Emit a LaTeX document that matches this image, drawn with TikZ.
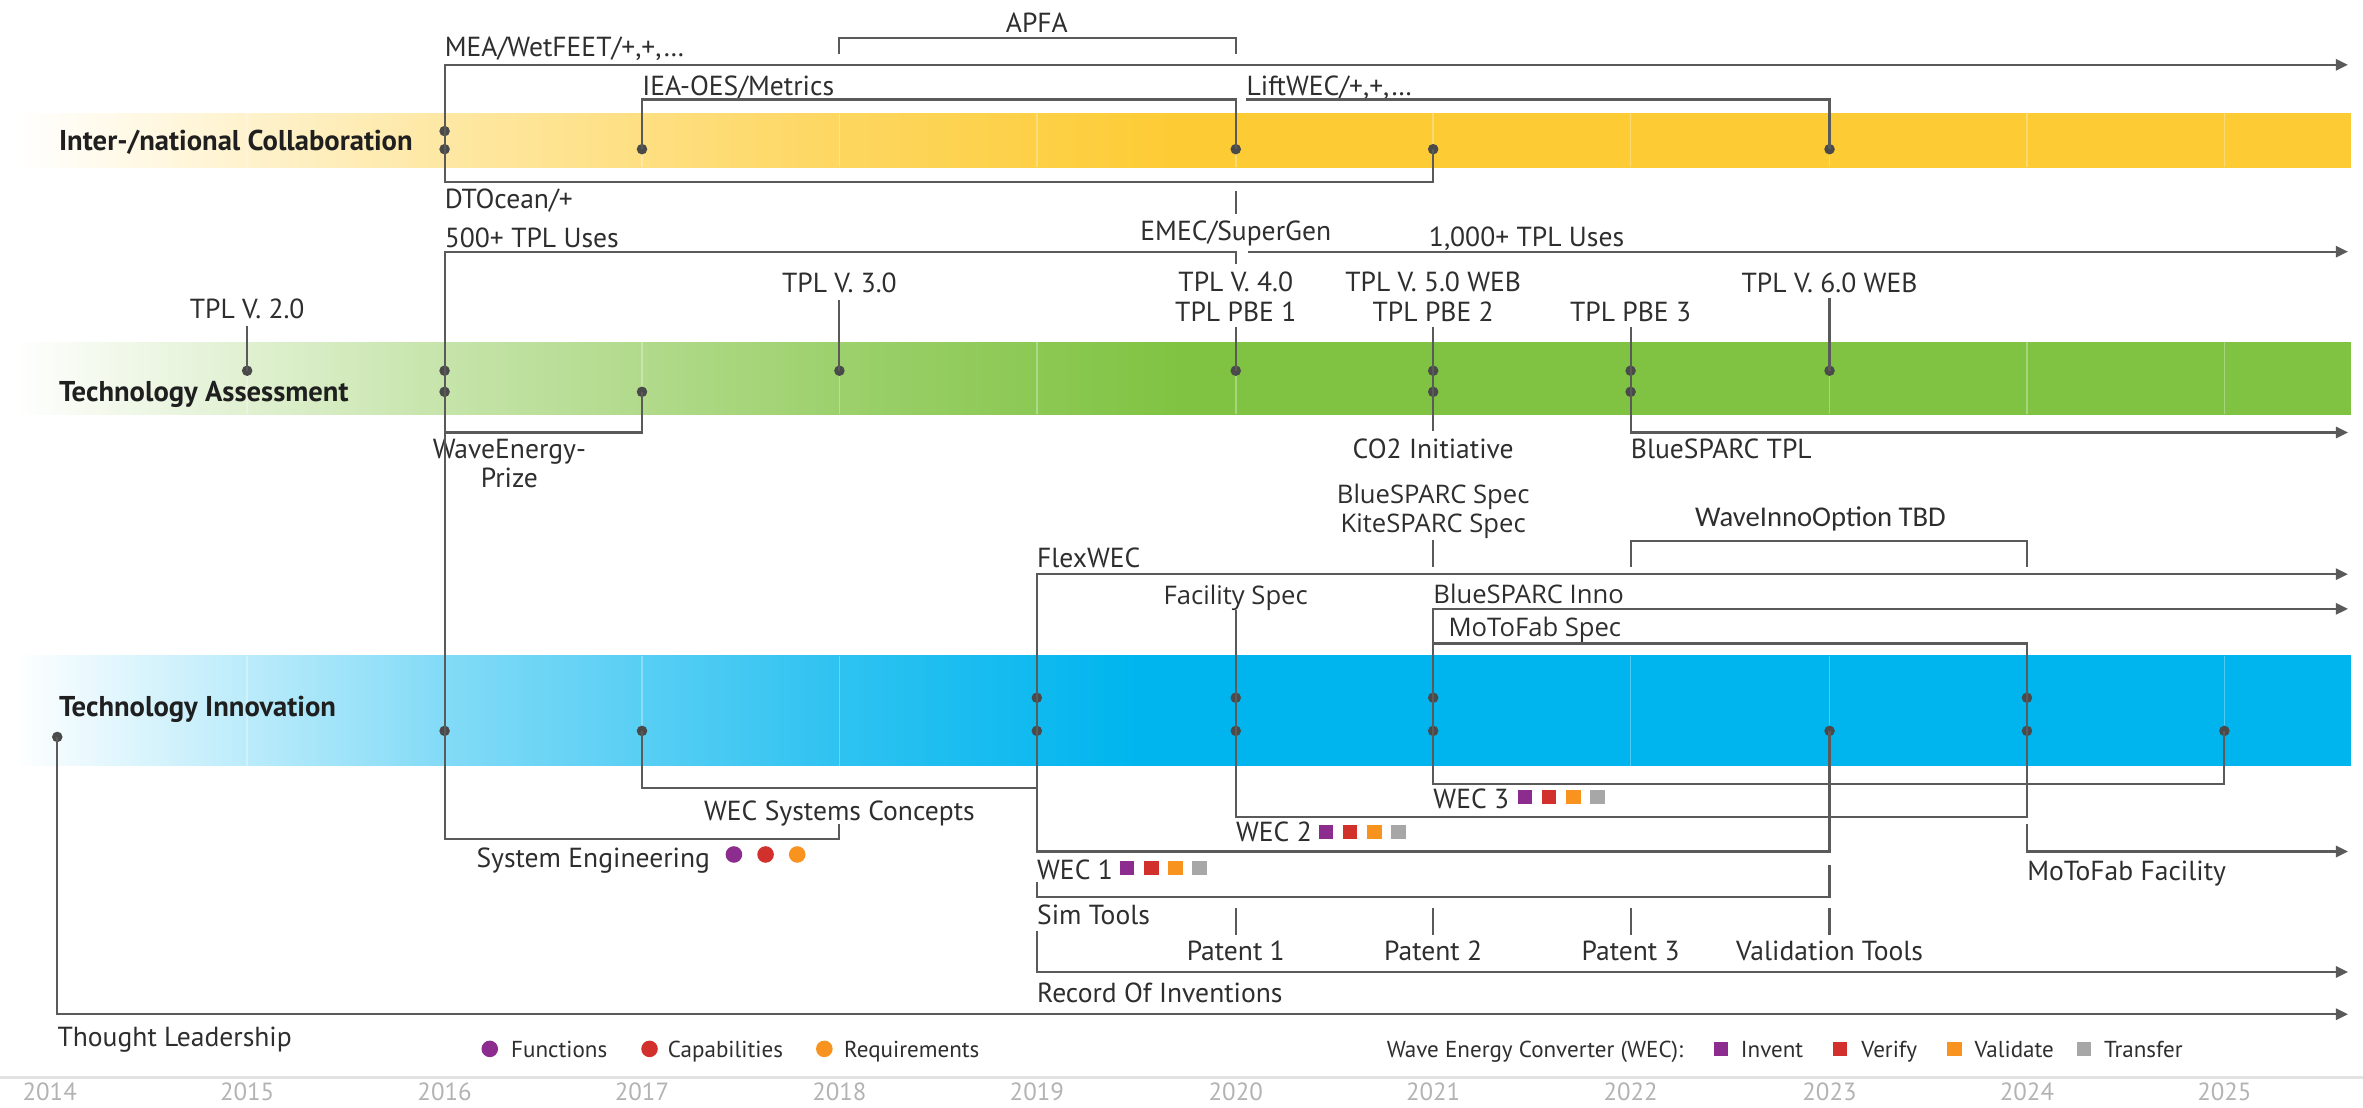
\documentclass[tikz,border=0pt]{standalone}
\usepackage{fontspec}
\setmainfont{PT Sans}
\newfontfamily\specfont{Open Sans}
\newfontfamily\calfont{Carlito}
\usetikzlibrary{arrows.meta,shapes.geometric,calc}
\definecolor{lncol}{HTML}{5A5A5A}
\definecolor{dotcol}{HTML}{4A4A4A}
\definecolor{txt}{HTML}{2E2E2E}
\definecolor{yel}{HTML}{FDCB33}
\definecolor{grn}{HTML}{80C342}
\definecolor{blu}{HTML}{00B5EE}
\definecolor{cpur}{HTML}{8B2C8E}
\definecolor{cred}{HTML}{D2302D}
\definecolor{cora}{HTML}{F7931E}
\definecolor{cgry}{HTML}{A7A7A7}
\definecolor{yrcol}{HTML}{B3B3B3}
\pgfdeclarehorizontalshading{yelsh}{100bp}{color(0bp)=(white); color(25bp)=(white); color(34bp)=(yel!44!white); color(42.7bp)=(yel!78!white); color(50bp)=(yel); color(100bp)=(yel)}
\pgfdeclarehorizontalshading{grnsh}{100bp}{color(0bp)=(white); color(25bp)=(white); color(34bp)=(grn!44!white); color(42.7bp)=(grn!78!white); color(50bp)=(grn); color(100bp)=(grn)}
\pgfdeclarehorizontalshading{blush}{100bp}{color(0bp)=(white); color(25bp)=(white); color(34bp)=(blu!48!white); color(42.7bp)=(blu!82!white); color(49bp)=(blu); color(100bp)=(blu)}
\begin{document}
\begin{tikzpicture}[x=1pt,y=-1pt,
  ln/.style={draw=lncol,line width=1.4pt},
  arr/.style={ln,-{Triangle[length=8pt,width=7.5pt]}},
  dot/.style={circle,fill=dotcol,inner sep=0pt,minimum size=7pt},
  lab/.style={inner sep=0pt,text=txt,font=\fontsize{18.3}{21}\selectfont,text height=17pt,text depth=4.2pt},
  labL/.style={lab,anchor=west},
  labC/.style={lab,anchor=center},
  speclab/.style={inner sep=0pt,text=txt,font=\specfont\fontsize{17}{20}\selectfont,text height=16.5pt,text depth=4.2pt},
  bandlab/.style={inner sep=0pt,anchor=west,text=black!88,font=\bfseries\fontsize{19}{22}\selectfont,text height=17.5pt,text depth=4.2pt},
  leglab/.style={inner sep=0pt,anchor=west,text=txt,font=\fontsize{15.3}{18}\selectfont,text height=14.5pt,text depth=3.6pt},
  yearlab/.style={inner sep=0pt,anchor=center,text=yrcol,font=\fontsize{16.5}{19}\selectfont,text height=15pt,text depth=3.8pt},
  ball/.style={circle,inner sep=0pt,minimum size=11pt},
  sq/.style={rectangle,inner sep=0pt,minimum size=9.5pt},
]
\useasboundingbox (0,0) rectangle (1568,735);
% ---------------- bands
\shade[shading=yelsh] (9,75) rectangle (1560,111);
\shade[shading=grnsh] (9,227) rectangle (1560,275);
\shade[shading=blush] (9,435) rectangle (1560,508);
\foreach \yx in {164,295,426,557,688,820,951,1082,1214,1345,1476}{
  \draw[white,opacity=0.3,line width=1pt] (\yx,75) -- (\yx,111);
  \draw[white,opacity=0.3,line width=1pt] (\yx,227) -- (\yx,275);
  \draw[white,opacity=0.3,line width=1pt] (\yx,435) -- (\yx,508);
}
% axis line and years
\draw[black!11,line width=1.5pt] (0,715) -- (1568,715);
\foreach \yr/\yx in {2014/33,2015/164,2016/295,2017/426,2018/557,2019/688,2020/820,2021/951,2022/1082,2023/1214,2024/1345,2025/1476}{
  \node[yearlab] (yr\yr) at (\yx,724.5) {\yr};
}
% band labels
\node[bandlab] (bcol) at (39,93) {Inter-/national Collaboration};
\node[bandlab] (bass) at (39,260) {Technology Assessment};
\node[bandlab] (binn) at (39,469) {Technology Innovation};

% ---------------- Collaboration
\node[dot] (d16a) at (295,87) {};
\node[dot] (d16b) at (295,99) {};
\node[dot] (d17c) at (426,99) {};
\node[dot] (d20c) at (820,99) {};
\node[dot] (d21c) at (951,99) {};
\node[dot] (d23c) at (1214,99) {};
\coordinate (meaEnd) at (1558,43);
\coordinate (apfaL) at (557,36);
\coordinate (apfaR) at (820,36);
\coordinate (liftS) at (827,66);
\coordinate (emecTop) at (820,127);

\node[labC] (apfa) at (688,15) {APFA};
\node[labL] (mea) at (295,31) {MEA/WetFEET/+,+,\ldots};
\node[labL] (iea) at (426,57) {IEA-OES/Metrics};
\node[labL] (lift) at (827,57) {LiftWEC/+,+,\ldots};
\node[labL] (dto) at (295,132) {DTOcean/+};
\node[labC] (emec) at (820,153) {EMEC/SuperGen};

\draw[arr] (d16b.center) -- (d16a.center) |- (meaEnd);
\draw[ln] (apfaL) -- ++(0,-11) -| (apfaR);
\draw[ln] (d17c.center) -- ++(0,-33) -| (d20c.center);
\draw[ln] (liftS) -| (d23c.center);
\draw[ln] (d16b.center) -- ++(0,22) -| (d21c.center);
\draw[ln] (emecTop) -- (emec.north);

% ---------------- Assessment
\node[dot] (a15) at (164,246) {};
\node[dot] (a16a) at (295,246) {};
\node[dot] (a16b) at (295,260) {};
\node[dot] (a17b) at (426,260) {};
\node[dot] (a18) at (557,246) {};
\node[dot] (a20) at (820,246) {};
\node[dot] (a21a) at (951,246) {};
\node[dot] (a21b) at (951,260) {};
\node[dot] (a22a) at (1082,246) {};
\node[dot] (a22b) at (1082,260) {};
\node[dot] (a23) at (1214,246) {};
\coordinate (c500) at (820,175);
\coordinate (k1) at (828,167);
\coordinate (k2) at (1558,167);
\coordinate (btplEnd) at (1558,287);

\node[labL] (u500) at (295,158) {500+ TPL Uses};
\node[labL] (u1000) at (948,157) {1,000+ TPL Uses};
\node[labC] (t2) at (164,205) {TPL V. 2.0};
\node[labC] (t3) at (557,188) {TPL V. 3.0};
\node[labC] (t4) at (820,187) {TPL V. 4.0};
\node[labC] (p1) at (820,207) {TPL PBE 1};
\node[labC] (t5) at (951,187) {TPL V. 5.0 WEB};
\node[labC] (p2) at (951,207) {TPL PBE 2};
\node[labC] (p3) at (1082,207) {TPL PBE 3};
\node[labC] (t6) at (1214,188) {TPL V. 6.0 WEB};
\node[labC] (co2) at (951,298) {CO2 Initiative};
\node[labL] (btpl) at (1082,298) {BlueSPARC TPL};
\node[labC] (wep1) at (338,298) {WaveEnergy-};
\node[labC] (wep2) at (338,317) {Prize};

\draw[ln] (a16a.center) -- ++(0,-79) -| (c500);
\draw[arr] (k1) -- (k2);
\draw[ln] (a15.center) -- ++(0,-30);
\draw[ln] (a18.center) -- ++(0,-47);
\draw[ln] (a20.center) -- ++(0,-29);
\draw[ln] (a21a.center) -- ++(0,-29);
\draw[ln] (a21a.center) -- (a21b.center) -- ++(0,26);
\draw[ln] (a22a.center) -- ++(0,-29);
\draw[arr] (a22a.center) -- (a22b.center) |- (btplEnd);
\draw[ln] (a23.center) -- ++(0,-48);
\draw[ln] (a17b.center) -- ++(0,27) -| (a16b.center);
\draw[ln] (a16a.center) -- (a16b.center);

% ---------------- Innovation
\node[dot] (i16) at (295,485) {};
\node[dot] (i17) at (426,485) {};
\node[dot] (i19a) at (688,463) {};
\node[dot] (i19b) at (688,485) {};
\node[dot] (i20a) at (820,463) {};
\node[dot] (i20b) at (820,485) {};
\node[dot] (i21a) at (951,463) {};
\node[dot] (i21b) at (951,485) {};
\node[dot] (i23) at (1214,485) {};
\node[dot] (i24a) at (1345,463) {};
\node[dot] (i24b) at (1345,485) {};
\node[dot] (i25) at (1476,485) {};
\node[dot] (tl) at (38,489) {};

\coordinate (sysR) at (557,547);
\coordinate (flexEnd) at (1558,381);
\coordinate (simL) at (688,585);
\coordinate (simR) at (1214,574);
\coordinate (recS) at (688,618);
\coordinate (recEnd) at (1558,645);
\coordinate (bsTop) at (951,358);
\coordinate (bsBot) at (951,376);
\coordinate (wiL) at (1082,376);
\coordinate (wiR) at (1345,376);
\coordinate (bsiEnd) at (1558,404);
\coordinate (mfS) at (1345,547);
\coordinate (mfEnd) at (1558,565);
\coordinate (tlEnd) at (1558,673);

\node[speclab,anchor=center] (bss) at (951,328) {BlueSPARC Spec};
\node[speclab,anchor=center] (kss) at (951,347) {KiteSPARC Spec};
\node[inner sep=0pt,anchor=center,text=txt,font=\calfont\fontsize{19}{22}\selectfont] (wio) at (1208,344) {WaveInnoOption TBD};
\node[labL] (flex) at (688,370) {FlexWEC};
\node[speclab,anchor=center] (fac) at (820,395) {Facility Spec};
\node[speclab,anchor=west] (bsi) at (951,394) {BlueSPARC Inno};
\node[speclab,anchor=west] (mfs) at (961,416) {MoToFab Spec};
\node[labL] (wec3) at (951,530) {WEC 3};
\node[labC] (wsc) at (557,538) {WEC Systems Concepts};
\node[labL] (wec2) at (820,552) {WEC 2};
\node[labL] (syse) at (316,569) {System Engineering};
\node[labL] (wec1) at (688,577) {WEC 1};
\node[labL] (mff) at (1345,578) {MoToFab Facility};
\node[labL] (sim) at (688,607) {Sim Tools};
\node[labC] (pat1) at (820,631) {Patent 1};
\node[labC] (pat2) at (951,631) {Patent 2};
\node[labC] (pat3) at (1082,631) {Patent 3};
\node[labC] (valt) at (1214,631) {Validation Tools};
\node[labL] (rec) at (688,659) {Record Of Inventions};
\node[labL] (thl) at (38,688) {Thought Leadership};

% 2016 main vertical
\draw[ln] (a16b.center) -- (i16.center) -- ++(0,72) -| (sysR);
% WEC systems concepts
\draw[ln] (i17.center) -- ++(0,38) -| (i19b.center);
% 2019
\draw[arr] (i19a.center) |- (flexEnd);
\draw[ln] (i19a.center) -- (i19b.center) -- ++(0,80) -| (i23.center);
\draw[ln] (simL) -- ++(0,10) -| (simR);
\draw[arr] (recS) |- (recEnd);
\foreach \p in {pat1,pat2,pat3,valt}{\draw[ln] (\p.north) -- ++(0,-18);}
% 2020
\draw[ln] (i20a.center) -- ++(0,-58);
\draw[ln] (i20a.center) -- (i20b.center) -- ++(0,57) -| (i24b.center);
% 2021
\draw[ln] (bsTop) -- (bsBot);
\draw[ln] (wiL) -- ++(0,-17) -| (wiR);
\draw[arr] (i21a.center) |- (bsiEnd);
\draw[ln] (i21a.center) -- (i21b.center) -- ++(0,35) -| (i25.center);
\draw[ln] (i21a.center) -- ++(0,-36) -| (i24a.center);
\draw[ln] (i24a.center) -- (i24b.center);
\draw[arr] (mfS) |- (mfEnd);
% Thought leadership
\draw[arr] (tl.center) |- (tlEnd);

% markers
\node[ball,fill=cpur] (se1) at (487,567) {};
\node[ball,fill=cred] (se2) at (508,567) {};
\node[ball,fill=cora] (se3) at (529,567) {};
\foreach \n/\y/\x in {1/576/748,2/552/880,3/529/1012}{
  \node[sq,fill=cpur] (w\n a) at (\x,\y) {};
  \node[sq,fill=cred] (w\n b) at (\x+16,\y) {};
  \node[sq,fill=cora] (w\n c) at (\x+32,\y) {};
  \node[sq,fill=cgry] (w\n d) at (\x+48,\y) {};
}
% legend
\node[ball,fill=cpur] (lg1) at (325,696) {};
\node[leglab] (lgt1) at (339,696) {Functions};
\node[ball,fill=cred] (lg2) at (431,696) {};
\node[leglab] (lgt2) at (443,696) {Capabilities};
\node[ball,fill=cora] (lg3) at (547,696) {};
\node[leglab] (lgt3) at (560,696) {Requirements};
\node[leglab] (lgw) at (920,696) {Wave Energy Converter (WEC):};
\node[sq,fill=cpur] (lq1) at (1142,696) {};
\node[leglab] (lqt1) at (1155,696) {Invent};
\node[sq,fill=cred] (lq2) at (1221,696) {};
\node[leglab] (lqt2) at (1235,696) {Verify};
\node[sq,fill=cora] (lq3) at (1297,696) {};
\node[leglab] (lqt3) at (1310,696) {Validate};
\node[sq,fill=cgry] (lq4) at (1383,696) {};
\node[leglab] (lqt4) at (1396,696) {Transfer};
\end{tikzpicture}
\end{document}
